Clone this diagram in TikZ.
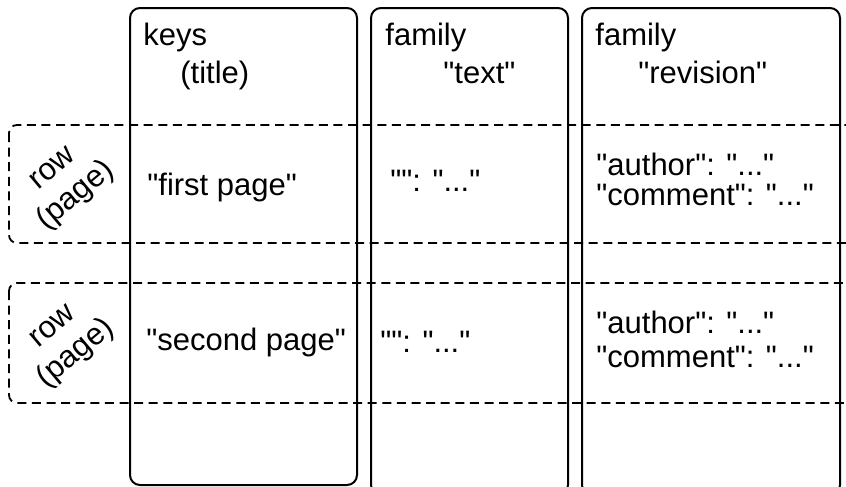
\documentclass[tikz,border=0pt]{standalone}
\usepackage{fontspec}
\setmainfont{Liberation Sans}[Ligatures=TeXOff]
\begin{document}
\begin{tikzpicture}[x=0.5pt,y=-0.5pt,
  colbox/.style={draw,line width=1pt,rounded corners=5pt},
  rowbox/.style={draw,line width=0.9pt,dash pattern=on 4.5pt off 2.8pt,rounded corners=4pt},
  lbl/.style={inner sep=0pt,anchor=base west,font=\fontsize{15.5}{19}\selectfont},
  rowlbl/.style={inner sep=0pt,align=center,rotate=40,font=\fontsize{15.5}{18}\selectfont}]
\def\keyscol{(130,8) rectangle (357,485)}
\def\textcol{(371,8) rectangle (568,495)}
\def\revcol{(582,8) rectangle (840,495)}
\def\firstrow{(9,125) rectangle (870,243)}
\def\secondrow{(9,283) rectangle (870,403)}

\clip (0,0) rectangle (846,487);

\draw[colbox] \keyscol;
\draw[colbox] \textcol;
\draw[colbox] \revcol;

\draw[rowbox] \firstrow;
\draw[rowbox] \secondrow;

% column heads
\node[lbl] (keys) at (143,45) {keys};
\node[lbl] (title) at (180,83) {(title)};
\node[lbl] (textfam) at (385,45) {family};
\node[lbl] (textname) at (443,83) {"text"};
\node[lbl] (revfam) at (595,45) {family};
\node[lbl] (revname) at (638,83) {"revision"};

% rows
\node[rowlbl] (firstlbl) at (66,184) {row\\(page)};
\node[lbl] (firstkey) at (147,195) {"first page"};
\node[lbl] (firsttext) at (390,191) {"": "..."};
\node[lbl,align=left,font=\fontsize{15.5}{15}\selectfont] (firstrev) at (596,205) {"author": "..."\\"comment": "..."};

\node[rowlbl] (secondlbl) at (66,342) {row\\(page)};
\node[lbl] (secondkey) at (146,350) {"second page"};
\node[lbl] (secondtext) at (380,352) {"": "..."};
\node[lbl,align=left,font=\fontsize{15.5}{17}\selectfont] (secondrev) at (596,367) {"author": "..."\\"comment": "..."};
\end{tikzpicture}
\end{document}
